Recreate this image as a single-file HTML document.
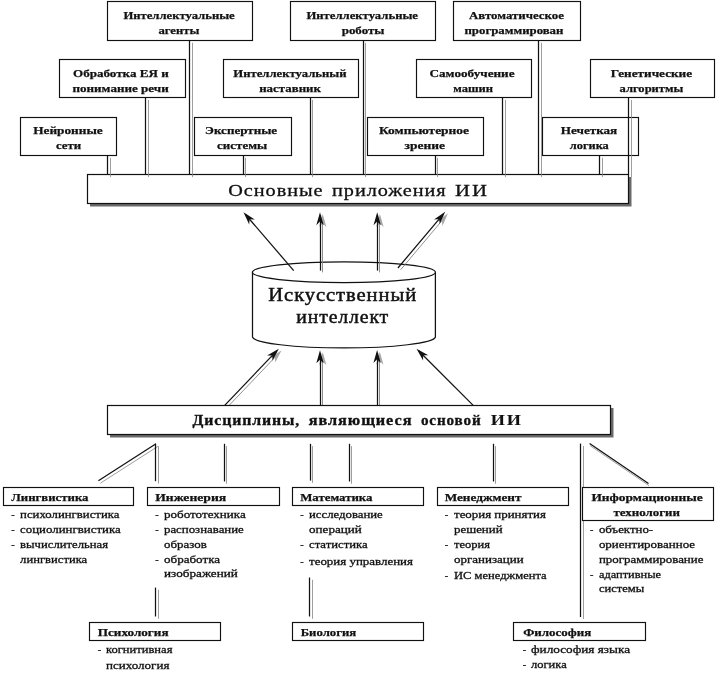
<!DOCTYPE html>
<html><head><meta charset="utf-8"><title>AI diagram</title>
<style>
html,body{margin:0;padding:0;background:#fff;}
body{width:716px;height:675px;overflow:hidden;font-family:"Liberation Serif",serif;}
svg{display:block;will-change:transform;}
svg text{font-family:"Liberation Serif",serif;fill:#111;}
</style></head><body>
<svg width="716" height="675" viewBox="0 0 716 675">
<rect width="716" height="675" fill="#fff"/>
<rect x="107.5" y="1.5" width="145.0" height="39.0" fill="#fff" stroke="#111" stroke-width="1.15"/>
<text x="123.4" y="19.0" font-size="11.3" font-weight="bold" text-anchor="start" stroke="#111" stroke-width="0.25" textLength="111.3" lengthAdjust="spacingAndGlyphs">Интеллектуальные</text>
<text x="158.4" y="34.0" font-size="11.3" font-weight="bold" text-anchor="start" stroke="#111" stroke-width="0.25" textLength="41.0" lengthAdjust="spacingAndGlyphs">агенты</text>
<rect x="290.5" y="1.5" width="145.0" height="39.0" fill="#fff" stroke="#111" stroke-width="1.15"/>
<text x="306.4" y="19.0" font-size="11.3" font-weight="bold" text-anchor="start" stroke="#111" stroke-width="0.25" textLength="111.6" lengthAdjust="spacingAndGlyphs">Интеллектуальные</text>
<text x="341.7" y="34.0" font-size="11.3" font-weight="bold" text-anchor="start" stroke="#111" stroke-width="0.25" textLength="42.8" lengthAdjust="spacingAndGlyphs">роботы</text>
<rect x="453.5" y="1.5" width="127.0" height="39.0" fill="#fff" stroke="#111" stroke-width="1.15"/>
<text x="469.0" y="19.0" font-size="11.3" font-weight="bold" text-anchor="start" stroke="#111" stroke-width="0.25" textLength="94.9" lengthAdjust="spacingAndGlyphs">Автоматическое</text>
<text x="464.5" y="34.0" font-size="11.3" font-weight="bold" text-anchor="start" stroke="#111" stroke-width="0.25" textLength="98.9" lengthAdjust="spacingAndGlyphs">программирован</text>
<rect x="59.5" y="59.5" width="126.0" height="38.0" fill="#fff" stroke="#111" stroke-width="1.15"/>
<text x="73.0" y="77.0" font-size="11.3" font-weight="bold" text-anchor="start" stroke="#111" stroke-width="0.25" textLength="95.7" lengthAdjust="spacingAndGlyphs">Обработка ЕЯ и</text>
<text x="72.5" y="92.0" font-size="11.3" font-weight="bold" text-anchor="start" stroke="#111" stroke-width="0.25" textLength="96.2" lengthAdjust="spacingAndGlyphs">понимание речи</text>
<rect x="223.5" y="59.5" width="135.0" height="38.0" fill="#fff" stroke="#111" stroke-width="1.15"/>
<text x="233.3" y="77.0" font-size="11.3" font-weight="bold" text-anchor="start" stroke="#111" stroke-width="0.25" textLength="113.3" lengthAdjust="spacingAndGlyphs">Интеллектуальный</text>
<text x="259.2" y="92.0" font-size="11.3" font-weight="bold" text-anchor="start" stroke="#111" stroke-width="0.25" textLength="61.7" lengthAdjust="spacingAndGlyphs">наставник</text>
<rect x="416.5" y="59.5" width="115.0" height="38.0" fill="#fff" stroke="#111" stroke-width="1.15"/>
<text x="429.5" y="77.0" font-size="11.3" font-weight="bold" text-anchor="start" stroke="#111" stroke-width="0.25" textLength="85.0" lengthAdjust="spacingAndGlyphs">Самообучение</text>
<text x="453.2" y="92.0" font-size="11.3" font-weight="bold" text-anchor="start" stroke="#111" stroke-width="0.25" textLength="39.7" lengthAdjust="spacingAndGlyphs">машин</text>
<rect x="590.5" y="59.5" width="124.0" height="38.0" fill="#fff" stroke="#111" stroke-width="1.15"/>
<text x="610.8" y="77.0" font-size="11.3" font-weight="bold" text-anchor="start" stroke="#111" stroke-width="0.25" textLength="81.3" lengthAdjust="spacingAndGlyphs">Генетические</text>
<text x="619.6" y="92.0" font-size="11.3" font-weight="bold" text-anchor="start" stroke="#111" stroke-width="0.25" textLength="63.7" lengthAdjust="spacingAndGlyphs">алгоритмы</text>
<rect x="20.5" y="117.5" width="96.0" height="38.0" fill="#fff" stroke="#111" stroke-width="1.15"/>
<text x="33.2" y="134.0" font-size="11.3" font-weight="bold" text-anchor="start" stroke="#111" stroke-width="0.25" textLength="69.5" lengthAdjust="spacingAndGlyphs">Нейронные</text>
<text x="55.9" y="149.0" font-size="11.3" font-weight="bold" text-anchor="start" stroke="#111" stroke-width="0.25" textLength="25.2" lengthAdjust="spacingAndGlyphs">сети</text>
<rect x="194.5" y="117.5" width="97.0" height="38.0" fill="#fff" stroke="#111" stroke-width="1.15"/>
<text x="205.1" y="134.0" font-size="11.3" font-weight="bold" text-anchor="start" stroke="#111" stroke-width="0.25" textLength="72.0" lengthAdjust="spacingAndGlyphs">Экспертные</text>
<text x="217.1" y="149.0" font-size="11.3" font-weight="bold" text-anchor="start" stroke="#111" stroke-width="0.25" textLength="50.0" lengthAdjust="spacingAndGlyphs">системы</text>
<rect x="367.5" y="117.5" width="116.0" height="38.0" fill="#fff" stroke="#111" stroke-width="1.15"/>
<text x="379.0" y="134.0" font-size="11.3" font-weight="bold" text-anchor="start" stroke="#111" stroke-width="0.25" textLength="90.0" lengthAdjust="spacingAndGlyphs">Компьютерное</text>
<text x="404.6" y="149.0" font-size="11.3" font-weight="bold" text-anchor="start" stroke="#111" stroke-width="0.25" textLength="40.3" lengthAdjust="spacingAndGlyphs">зрение</text>
<rect x="542.5" y="117.5" width="96.0" height="38.0" fill="#fff" stroke="#111" stroke-width="1.15"/>
<text x="560.8" y="134.0" font-size="11.3" font-weight="bold" text-anchor="start" stroke="#111" stroke-width="0.25" textLength="56.4" lengthAdjust="spacingAndGlyphs">Нечеткая</text>
<text x="569.8" y="149.0" font-size="11.3" font-weight="bold" text-anchor="start" stroke="#111" stroke-width="0.25" textLength="39.0" lengthAdjust="spacingAndGlyphs">логика</text>
<rect x="90.0" y="177.0" width="541.5" height="29.5" fill="#6a6a6a"/>
<rect x="87.5" y="174.5" width="541.0" height="29.0" fill="#fff" stroke="#111" stroke-width="1.2"/>
<line x1="110.5" y1="157.9" x2="110.5" y2="177.1" stroke="#858585" stroke-width="0.8"/>
<line x1="107.5" y1="155.4" x2="107.5" y2="174.6" stroke="#111" stroke-width="1.25"/>
<line x1="148.5" y1="99.9" x2="148.5" y2="177.1" stroke="#858585" stroke-width="0.8"/>
<line x1="145.5" y1="97.4" x2="145.5" y2="174.6" stroke="#111" stroke-width="1.25"/>
<line x1="192.5" y1="42.8" x2="192.5" y2="177.1" stroke="#858585" stroke-width="0.8"/>
<line x1="189.5" y1="40.3" x2="189.5" y2="174.6" stroke="#111" stroke-width="1.25"/>
<line x1="245.5" y1="157.8" x2="245.5" y2="177.1" stroke="#858585" stroke-width="0.8"/>
<line x1="243.5" y1="155.3" x2="243.5" y2="174.6" stroke="#111" stroke-width="1.25"/>
<line x1="312.5" y1="99.9" x2="312.5" y2="177.1" stroke="#858585" stroke-width="0.8"/>
<line x1="310.5" y1="97.4" x2="310.5" y2="174.6" stroke="#111" stroke-width="1.25"/>
<line x1="365.5" y1="42.8" x2="365.5" y2="177.1" stroke="#858585" stroke-width="0.8"/>
<line x1="363.5" y1="40.3" x2="363.5" y2="174.6" stroke="#111" stroke-width="1.25"/>
<line x1="437.5" y1="157.8" x2="437.5" y2="177.1" stroke="#858585" stroke-width="0.8"/>
<line x1="435.5" y1="155.3" x2="435.5" y2="174.6" stroke="#111" stroke-width="1.25"/>
<line x1="505.5" y1="99.9" x2="505.5" y2="177.1" stroke="#858585" stroke-width="0.8"/>
<line x1="502.5" y1="97.4" x2="502.5" y2="174.6" stroke="#111" stroke-width="1.25"/>
<line x1="541.5" y1="42.8" x2="541.5" y2="177.1" stroke="#858585" stroke-width="0.8"/>
<line x1="538.5" y1="40.3" x2="538.5" y2="174.6" stroke="#111" stroke-width="1.25"/>
<line x1="602.5" y1="157.8" x2="602.5" y2="177.1" stroke="#858585" stroke-width="0.8"/>
<line x1="599.5" y1="155.3" x2="599.5" y2="174.6" stroke="#111" stroke-width="1.25"/>
<line x1="631.5" y1="99.9" x2="631.5" y2="177.1" stroke="#858585" stroke-width="0.8"/>
<line x1="628.5" y1="97.4" x2="628.5" y2="174.6" stroke="#111" stroke-width="1.25"/>
<text x="228.3" y="196.0" font-size="17.5" font-weight="normal" text-anchor="start" stroke="#111" stroke-width="0.3" textLength="95.1" lengthAdjust="spacingAndGlyphs" letter-spacing="0.8">Основные</text>
<text x="332.1" y="196.0" font-size="17.5" font-weight="normal" text-anchor="start" stroke="#111" stroke-width="0.3" textLength="114.4" lengthAdjust="spacingAndGlyphs" letter-spacing="0.8">приложения</text>
<text x="455.0" y="196.0" font-size="17.5" font-weight="normal" text-anchor="start" stroke="#111" stroke-width="0.3" textLength="33.8" lengthAdjust="spacingAndGlyphs" letter-spacing="1.6">ИИ</text>
<path d="M252.5,272.2 L252.5,337.0 A91.5,11.3 0 0 0 435.4,337.0 L435.4,272.2" fill="#fff" stroke="#111" stroke-width="1.25"/>
<ellipse cx="343.9" cy="272.2" rx="91.5" ry="10.4" fill="#fff" stroke="#111" stroke-width="1.25"/>
<text x="268.3" y="301.0" font-size="18" font-weight="normal" text-anchor="start" stroke="#111" stroke-width="0.45" textLength="148.8" lengthAdjust="spacingAndGlyphs" letter-spacing="0.8">Искусственный</text>
<text x="296.3" y="323.0" font-size="18" font-weight="normal" text-anchor="start" stroke="#111" stroke-width="0.45" textLength="92.8" lengthAdjust="spacingAndGlyphs" letter-spacing="0.8">интеллект</text>
<line x1="293.7" y1="270.6" x2="245.5" y2="214.5" stroke="#111" stroke-width="1.25"/>
<path d="M243.5,212.2 L254.8,219.6 L249.6,219.3 L249.2,224.5 Z" fill="#111"/>
<line x1="322.5" y1="272.4" x2="322.5" y2="218.0" stroke="#858585" stroke-width="0.9"/>
<path d="M322.7,214.0 L326.4,227.0 L322.7,223.4 L319.0,227.0 Z" fill="#a8a8a8"/>
<line x1="320.5" y1="270.6" x2="320.5" y2="215.2" stroke="#111" stroke-width="1.25"/>
<path d="M320.0,212.2 L323.7,225.2 L320.0,221.6 L316.3,225.2 Z" fill="#111"/>
<line x1="379.5" y1="272.4" x2="379.5" y2="218.0" stroke="#858585" stroke-width="0.9"/>
<path d="M379.9,214.0 L383.6,227.0 L379.9,223.4 L376.2,227.0 Z" fill="#a8a8a8"/>
<line x1="377.5" y1="270.6" x2="377.5" y2="215.2" stroke="#111" stroke-width="1.25"/>
<path d="M377.2,212.2 L380.9,225.2 L377.2,221.6 L373.5,225.2 Z" fill="#111"/>
<line x1="400.6" y1="269.8" x2="445.3" y2="216.7" stroke="#858585" stroke-width="0.9"/>
<path d="M447.9,213.6 L442.4,225.9 L441.9,220.8 L436.7,221.2 Z" fill="#a8a8a8"/>
<line x1="397.9" y1="268.0" x2="443.3" y2="214.1" stroke="#111" stroke-width="1.25"/>
<path d="M445.2,211.8 L439.7,224.1 L439.2,219.0 L434.0,219.4 Z" fill="#111"/>
<line x1="227.4" y1="407.2" x2="278.7" y2="353.4" stroke="#858585" stroke-width="0.9"/>
<path d="M281.5,350.5 L275.2,362.5 L275.0,357.3 L269.8,357.4 Z" fill="#a8a8a8"/>
<line x1="224.7" y1="405.4" x2="276.7" y2="350.9" stroke="#111" stroke-width="1.25"/>
<path d="M278.8,348.7 L272.5,360.7 L272.3,355.5 L267.1,355.6 Z" fill="#111"/>
<line x1="322.5" y1="407.2" x2="322.5" y2="356.1" stroke="#858585" stroke-width="0.9"/>
<path d="M322.7,352.1 L326.4,365.1 L322.7,361.5 L319.0,365.1 Z" fill="#a8a8a8"/>
<line x1="320.5" y1="405.4" x2="320.5" y2="353.3" stroke="#111" stroke-width="1.25"/>
<path d="M320.0,350.3 L323.7,363.3 L320.0,359.7 L316.3,363.3 Z" fill="#111"/>
<line x1="379.5" y1="407.2" x2="379.5" y2="355.7" stroke="#858585" stroke-width="0.9"/>
<path d="M379.8,351.7 L383.5,364.7 L379.8,361.1 L376.1,364.7 Z" fill="#a8a8a8"/>
<line x1="377.5" y1="405.4" x2="377.5" y2="352.9" stroke="#111" stroke-width="1.25"/>
<path d="M377.1,349.9 L380.8,362.9 L377.1,359.3 L373.4,362.9 Z" fill="#111"/>
<line x1="473.2" y1="405.4" x2="418.6" y2="350.8" stroke="#111" stroke-width="1.25"/>
<path d="M416.5,348.7 L428.3,355.3 L423.1,355.3 L423.1,360.5 Z" fill="#111"/>
<rect x="110.0" y="408.0" width="503.5" height="29.5" fill="#6a6a6a"/>
<rect x="107.5" y="405.5" width="503.0" height="29.0" fill="#fff" stroke="#111" stroke-width="1.2"/>
<text x="192.5" y="425.0" font-size="14" font-weight="bold" text-anchor="start" stroke="#111" stroke-width="0.3" textLength="107.7" lengthAdjust="spacingAndGlyphs" letter-spacing="0.8">Дисциплины,</text>
<text x="308.7" y="425.0" font-size="14" font-weight="bold" text-anchor="start" stroke="#111" stroke-width="0.3" textLength="103.7" lengthAdjust="spacingAndGlyphs" letter-spacing="0.8">являющиеся</text>
<text x="420.9" y="425.0" font-size="14" font-weight="bold" text-anchor="start" stroke="#111" stroke-width="0.3" textLength="60.6" lengthAdjust="spacingAndGlyphs" letter-spacing="0.8">основой</text>
<text x="490.8" y="425.0" font-size="14" font-weight="bold" text-anchor="start" stroke="#111" stroke-width="0.05" textLength="32.0" lengthAdjust="spacingAndGlyphs" letter-spacing="1.4">ИИ</text>
<line x1="158.0" y1="446.3" x2="100.4" y2="483.2" stroke="#858585" stroke-width="0.8"/>
<line x1="156.0" y1="443.8" x2="98.4" y2="480.7" stroke="#111" stroke-width="1.25"/>
<line x1="158.5" y1="446.1" x2="158.5" y2="483.5" stroke="#858585" stroke-width="0.8"/>
<line x1="155.5" y1="443.8" x2="155.5" y2="481.2" stroke="#111" stroke-width="1.25"/>
<line x1="226.5" y1="446.1" x2="226.5" y2="483.8" stroke="#858585" stroke-width="0.8"/>
<line x1="224.5" y1="443.8" x2="224.5" y2="481.5" stroke="#111" stroke-width="1.25"/>
<line x1="312.5" y1="446.1" x2="312.5" y2="482.9" stroke="#858585" stroke-width="0.8"/>
<line x1="310.5" y1="443.8" x2="310.5" y2="480.6" stroke="#111" stroke-width="1.25"/>
<line x1="351.5" y1="446.1" x2="351.5" y2="483.8" stroke="#858585" stroke-width="0.8"/>
<line x1="349.5" y1="443.8" x2="349.5" y2="481.5" stroke="#111" stroke-width="1.25"/>
<line x1="495.5" y1="446.1" x2="495.5" y2="483.8" stroke="#858585" stroke-width="0.8"/>
<line x1="493.5" y1="443.8" x2="493.5" y2="481.5" stroke="#111" stroke-width="1.25"/>
<line x1="583.5" y1="446.0" x2="583.5" y2="619.0" stroke="#858585" stroke-width="0.8"/>
<line x1="580.5" y1="443.6" x2="580.5" y2="617.0" stroke="#111" stroke-width="1.25"/>
<line x1="590.1" y1="445.6" x2="649.0" y2="485.6" stroke="#858585" stroke-width="0.8"/>
<line x1="589.6" y1="443.6" x2="648.5" y2="483.6" stroke="#111" stroke-width="1.25"/>
<line x1="158.5" y1="589.9" x2="158.5" y2="618.8" stroke="#858585" stroke-width="0.8"/>
<line x1="155.5" y1="587.6" x2="155.5" y2="616.5" stroke="#111" stroke-width="1.25"/>
<line x1="312.5" y1="579.8" x2="312.5" y2="618.8" stroke="#858585" stroke-width="0.8"/>
<line x1="309.5" y1="577.5" x2="309.5" y2="616.5" stroke="#111" stroke-width="1.25"/>
<rect x="3.5" y="487.5" width="130.0" height="18.0" fill="#fff" stroke="#111" stroke-width="1.15"/>
<text x="11.3" y="501.0" font-size="11.3" font-weight="bold" text-anchor="start" stroke="#111" stroke-width="0.25" textLength="77.2" lengthAdjust="spacingAndGlyphs">Лингвистика</text>
<text x="11.3" y="518.0" font-size="10.2" font-weight="normal" text-anchor="start" stroke="#111" stroke-width="0.28">-</text>
<text x="20.1" y="518.0" font-size="10.2" font-weight="normal" text-anchor="start" stroke="#111" stroke-width="0.28" textLength="99.3" lengthAdjust="spacingAndGlyphs">психолингвистика</text>
<text x="11.3" y="533.0" font-size="10.2" font-weight="normal" text-anchor="start" stroke="#111" stroke-width="0.28">-</text>
<text x="20.1" y="533.0" font-size="10.2" font-weight="normal" text-anchor="start" stroke="#111" stroke-width="0.28" textLength="100.6" lengthAdjust="spacingAndGlyphs">социолингвистика</text>
<text x="11.3" y="548.0" font-size="10.2" font-weight="normal" text-anchor="start" stroke="#111" stroke-width="0.28">-</text>
<text x="20.1" y="548.0" font-size="10.2" font-weight="normal" text-anchor="start" stroke="#111" stroke-width="0.28" textLength="88.0" lengthAdjust="spacingAndGlyphs">вычислительная</text>
<text x="20.1" y="563.0" font-size="10.2" font-weight="normal" text-anchor="start" stroke="#111" stroke-width="0.28" textLength="67.1" lengthAdjust="spacingAndGlyphs">лингвистика</text>
<rect x="147.5" y="487.5" width="132.0" height="18.0" fill="#fff" stroke="#111" stroke-width="1.15"/>
<text x="155.2" y="501.0" font-size="11.3" font-weight="bold" text-anchor="start" stroke="#111" stroke-width="0.25" textLength="71.0" lengthAdjust="spacingAndGlyphs">Инженерия</text>
<text x="155.2" y="518.0" font-size="10.2" font-weight="normal" text-anchor="start" stroke="#111" stroke-width="0.28">-</text>
<text x="164.0" y="518.0" font-size="10.2" font-weight="normal" text-anchor="start" stroke="#111" stroke-width="0.28" textLength="81.8" lengthAdjust="spacingAndGlyphs">робототехника</text>
<text x="155.2" y="533.0" font-size="10.2" font-weight="normal" text-anchor="start" stroke="#111" stroke-width="0.28">-</text>
<text x="164.0" y="533.0" font-size="10.2" font-weight="normal" text-anchor="start" stroke="#111" stroke-width="0.28" textLength="79.8" lengthAdjust="spacingAndGlyphs">распознавание</text>
<text x="164.0" y="548.0" font-size="10.2" font-weight="normal" text-anchor="start" stroke="#111" stroke-width="0.28" textLength="42.8" lengthAdjust="spacingAndGlyphs">образов</text>
<text x="155.2" y="563.0" font-size="10.2" font-weight="normal" text-anchor="start" stroke="#111" stroke-width="0.28">-</text>
<text x="164.0" y="563.0" font-size="10.2" font-weight="normal" text-anchor="start" stroke="#111" stroke-width="0.28" textLength="56.1" lengthAdjust="spacingAndGlyphs">обработка</text>
<text x="164.0" y="577.0" font-size="10.2" font-weight="normal" text-anchor="start" stroke="#111" stroke-width="0.28" textLength="73.8" lengthAdjust="spacingAndGlyphs">изображений</text>
<rect x="292.5" y="487.5" width="131.0" height="18.0" fill="#fff" stroke="#111" stroke-width="1.15"/>
<text x="300.2" y="501.0" font-size="11.3" font-weight="bold" text-anchor="start" stroke="#111" stroke-width="0.25" textLength="72.3" lengthAdjust="spacingAndGlyphs">Математика</text>
<text x="300.2" y="518.0" font-size="10.2" font-weight="normal" text-anchor="start" stroke="#111" stroke-width="0.28">-</text>
<text x="309.0" y="518.0" font-size="10.2" font-weight="normal" text-anchor="start" stroke="#111" stroke-width="0.28" textLength="73.8" lengthAdjust="spacingAndGlyphs">исследование</text>
<text x="309.0" y="533.0" font-size="10.2" font-weight="normal" text-anchor="start" stroke="#111" stroke-width="0.28" textLength="52.8" lengthAdjust="spacingAndGlyphs">операций</text>
<text x="300.2" y="548.0" font-size="10.2" font-weight="normal" text-anchor="start" stroke="#111" stroke-width="0.28">-</text>
<text x="309.0" y="548.0" font-size="10.2" font-weight="normal" text-anchor="start" stroke="#111" stroke-width="0.28" textLength="58.7" lengthAdjust="spacingAndGlyphs">статистика</text>
<text x="300.2" y="565.0" font-size="10.2" font-weight="normal" text-anchor="start" stroke="#111" stroke-width="0.28">-</text>
<text x="309.0" y="565.0" font-size="10.2" font-weight="normal" text-anchor="start" stroke="#111" stroke-width="0.28" textLength="104.0" lengthAdjust="spacingAndGlyphs">теория управления</text>
<rect x="437.5" y="487.5" width="131.0" height="18.0" fill="#fff" stroke="#111" stroke-width="1.15"/>
<text x="444.7" y="501.0" font-size="11.3" font-weight="bold" text-anchor="start" stroke="#111" stroke-width="0.25" textLength="76.8" lengthAdjust="spacingAndGlyphs">Менеджмент</text>
<text x="444.7" y="518.0" font-size="10.2" font-weight="normal" text-anchor="start" stroke="#111" stroke-width="0.28">-</text>
<text x="454.0" y="518.0" font-size="10.2" font-weight="normal" text-anchor="start" stroke="#111" stroke-width="0.28" textLength="91.9" lengthAdjust="spacingAndGlyphs">теория принятия</text>
<text x="454.0" y="533.0" font-size="10.2" font-weight="normal" text-anchor="start" stroke="#111" stroke-width="0.28" textLength="48.6" lengthAdjust="spacingAndGlyphs">решений</text>
<text x="444.7" y="548.0" font-size="10.2" font-weight="normal" text-anchor="start" stroke="#111" stroke-width="0.28">-</text>
<text x="454.0" y="548.0" font-size="10.2" font-weight="normal" text-anchor="start" stroke="#111" stroke-width="0.28" textLength="36.0" lengthAdjust="spacingAndGlyphs">теория</text>
<text x="454.0" y="563.0" font-size="10.2" font-weight="normal" text-anchor="start" stroke="#111" stroke-width="0.28" textLength="69.7" lengthAdjust="spacingAndGlyphs">организации</text>
<text x="444.7" y="579.0" font-size="10.2" font-weight="normal" text-anchor="start" stroke="#111" stroke-width="0.28">-</text>
<text x="454.0" y="579.0" font-size="10.2" font-weight="normal" text-anchor="start" stroke="#111" stroke-width="0.28" textLength="92.6" lengthAdjust="spacingAndGlyphs">ИС менеджмента</text>
<rect x="582.5" y="487.5" width="131.0" height="33.0" fill="#fff" stroke="#111" stroke-width="1.15"/>
<text x="591.4" y="501.0" font-size="11.3" font-weight="bold" text-anchor="start" stroke="#111" stroke-width="0.25" textLength="111.3" lengthAdjust="spacingAndGlyphs">Информационные</text>
<text x="613.5" y="516.0" font-size="11.3" font-weight="bold" text-anchor="start" stroke="#111" stroke-width="0.25" textLength="66.5" lengthAdjust="spacingAndGlyphs">технологии</text>
<text x="590.1" y="533.0" font-size="10.2" font-weight="normal" text-anchor="start" stroke="#111" stroke-width="0.28">-</text>
<text x="598.9" y="533.0" font-size="10.2" font-weight="normal" text-anchor="start" stroke="#111" stroke-width="0.28" textLength="54.2" lengthAdjust="spacingAndGlyphs">объектно-</text>
<text x="598.9" y="548.0" font-size="10.2" font-weight="normal" text-anchor="start" stroke="#111" stroke-width="0.28" textLength="96.2" lengthAdjust="spacingAndGlyphs">ориентированное</text>
<text x="598.9" y="563.0" font-size="10.2" font-weight="normal" text-anchor="start" stroke="#111" stroke-width="0.28" textLength="104.5" lengthAdjust="spacingAndGlyphs">программирование</text>
<text x="590.1" y="578.0" font-size="10.2" font-weight="normal" text-anchor="start" stroke="#111" stroke-width="0.28">-</text>
<text x="598.9" y="578.0" font-size="10.2" font-weight="normal" text-anchor="start" stroke="#111" stroke-width="0.28" textLength="62.2" lengthAdjust="spacingAndGlyphs">адаптивные</text>
<text x="598.9" y="592.0" font-size="10.2" font-weight="normal" text-anchor="start" stroke="#111" stroke-width="0.28" textLength="45.4" lengthAdjust="spacingAndGlyphs">системы</text>
<rect x="89.5" y="622.5" width="131.0" height="18.0" fill="#fff" stroke="#111" stroke-width="1.15"/>
<text x="97.7" y="636.0" font-size="11.3" font-weight="bold" text-anchor="start" stroke="#111" stroke-width="0.25" textLength="70.9" lengthAdjust="spacingAndGlyphs">Психология</text>
<text x="97.7" y="653.0" font-size="10.2" font-weight="normal" text-anchor="start" stroke="#111" stroke-width="0.28">-</text>
<text x="106.0" y="653.0" font-size="10.2" font-weight="normal" text-anchor="start" stroke="#111" stroke-width="0.28" textLength="66.4" lengthAdjust="spacingAndGlyphs">когнитивная</text>
<text x="106.0" y="669.0" font-size="10.2" font-weight="normal" text-anchor="start" stroke="#111" stroke-width="0.28" textLength="63.4" lengthAdjust="spacingAndGlyphs">психология</text>
<rect x="292.5" y="622.5" width="131.0" height="18.0" fill="#fff" stroke="#111" stroke-width="1.15"/>
<text x="300.7" y="636.0" font-size="11.3" font-weight="bold" text-anchor="start" stroke="#111" stroke-width="0.25" textLength="55.5" lengthAdjust="spacingAndGlyphs">Биология</text>
<rect x="513.5" y="622.5" width="132.0" height="18.0" fill="#fff" stroke="#111" stroke-width="1.15"/>
<text x="523.2" y="636.0" font-size="11.3" font-weight="bold" text-anchor="start" stroke="#111" stroke-width="0.25" textLength="68.2" lengthAdjust="spacingAndGlyphs">Философия</text>
<text x="522.7" y="653.0" font-size="10.2" font-weight="normal" text-anchor="start" stroke="#111" stroke-width="0.28">-</text>
<text x="531.0" y="653.0" font-size="10.2" font-weight="normal" text-anchor="start" stroke="#111" stroke-width="0.28" textLength="99.1" lengthAdjust="spacingAndGlyphs">философия языка</text>
<text x="522.7" y="668.0" font-size="10.2" font-weight="normal" text-anchor="start" stroke="#111" stroke-width="0.28">-</text>
<text x="531.0" y="668.0" font-size="10.2" font-weight="normal" text-anchor="start" stroke="#111" stroke-width="0.28" textLength="35.7" lengthAdjust="spacingAndGlyphs">логика</text>
</svg>
</body></html>
